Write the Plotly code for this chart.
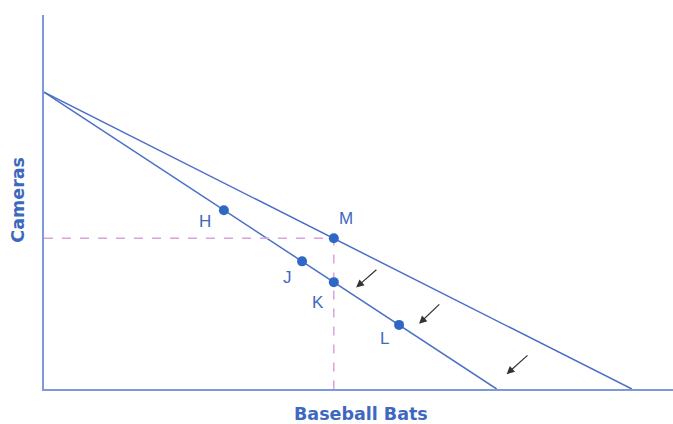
import plotly.graph_objects as go

# budget constraints (baseball bats on x, cameras on y)
old_budget_x = [0, 100.0]
old_budget_y = [50.0, 0]
new_budget_x = [0, 77.0]
new_budget_y = [50.0, 0]

# labelled choice points
point_names = ["H", "J", "K", "M", "L"]
point_x = [30.6, 43.9, 49.3, 49.3, 60.4]
point_y = [30.1, 21.5, 18.0, 25.4, 10.8]

# shift arrows: (tail x, tail y, head x, head y)
arrows = [
    (56.8, 20.3, 53.1, 17.1),
    (67.5, 14.5, 63.8, 11.0),
    (82.5, 5.9, 78.7, 2.5),
]

LINE = "#4c6fc6"
DOT = "#2f68c4"
TEXT = "#3d68c0"
AXIS = "#7f99d8"
DASH = "#d9a3d6"
TITLE_FONT = dict(family="DejaVu Sans", size=17.5, color=TEXT)

fig = go.Figure()

fig.add_trace(go.Scatter(x=old_budget_x, y=old_budget_y, mode="lines",
                         line=dict(color=LINE, width=1.5), hoverinfo="skip"))
fig.add_trace(go.Scatter(x=new_budget_x, y=new_budget_y, mode="lines",
                         line=dict(color=LINE, width=1.5), hoverinfo="skip"))

# dashed guides through M
mx, my = point_x[3], point_y[3]
fig.add_trace(go.Scatter(x=[0, mx, mx], y=[my, my, 0], mode="lines",
                         line=dict(color=DASH, width=1.5, dash="dash"),
                         hoverinfo="skip"))

fig.add_trace(go.Scatter(x=point_x, y=point_y, mode="markers",
                         marker=dict(color=DOT, size=10), hoverinfo="skip"))

# label offsets in pixels
label_offsets = {"H": (-19, -11), "J": (-15, -16), "K": (-16, -20),
                 "M": (12, 20), "L": (-15, -14)}
for name, x, y in zip(point_names, point_x, point_y):
    dx, dy = label_offsets[name]
    fig.add_annotation(x=x, y=y, text=name, showarrow=False,
                       xshift=dx, yshift=dy,
                       font=dict(family="Liberation Sans, Arial", size=17,
                                 color=TEXT))

for tx, ty, hx, hy in arrows:
    fig.add_annotation(x=hx, y=hy, ax=tx, ay=ty, xref="x", yref="y",
                       axref="x", ayref="y", text="", showarrow=True,
                       arrowhead=2, arrowsize=1.3, arrowwidth=1.2,
                       arrowcolor="#333333")

# axis titles as annotations so the margins stay put
fig.add_annotation(x=0.5, y=0, xref="paper", yref="paper", yshift=-25,
                   yanchor="middle", xshift=2,
                   text="<b>Baseball Bats</b>", showarrow=False,
                   font=TITLE_FONT)
fig.add_annotation(x=0, y=0.505, xref="paper", yref="paper", xshift=-25.5,
                   text="<b>Cameras</b>", showarrow=False, textangle=-90,
                   xanchor="center", font=TITLE_FONT)

fig.update_layout(
    width=673, height=424,
    margin=dict(l=44, r=0, t=15, b=35),
    paper_bgcolor="white", plot_bgcolor="white",
    showlegend=False,
    xaxis=dict(range=[0, 107], showgrid=False, zeroline=False,
               showticklabels=False, ticks="", showline=True,
               linecolor=AXIS, linewidth=2, automargin=False),
    yaxis=dict(range=[0, 63], showgrid=False, zeroline=False,
               showticklabels=False, ticks="", showline=True,
               linecolor=AXIS, linewidth=2, automargin=False),
)

fig.write_html("out.html", config={"displayModeBar": False},
               post_script="document.body.style.margin='0';"
                           "document.body.style.overflow='hidden';")
